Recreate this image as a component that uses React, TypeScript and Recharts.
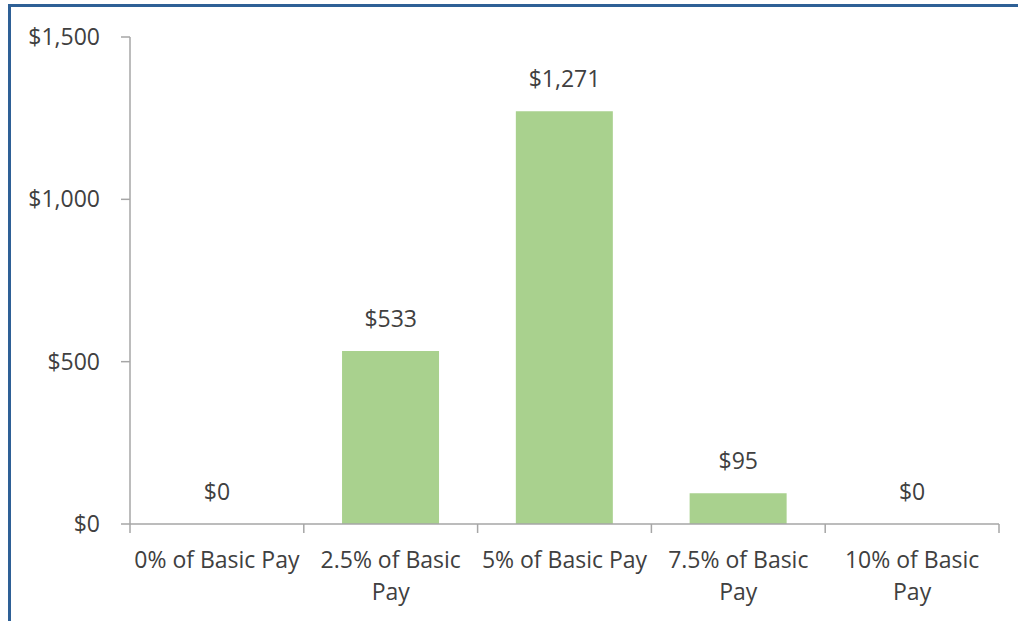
import { ComposedChart, Bar, Line, XAxis, YAxis, LabelList } from "recharts";

const categories = [
  "0% of Basic Pay",
  "2.5% of Basic Pay",
  "5% of Basic Pay",
  "7.5% of Basic Pay",
  "10% of Basic Pay",
];
const amounts = [0, 533, 1271, 95, 0];
const yTicks = [0, 500, 1000, 1500];

const data = categories.map((name, i) => ({ name, amount: amounts[i] }));

const FONT = "'Open Sans', 'Noto Sans', sans-serif";
const TEXT = "#404040";
const AXIS = "#A6A6A6";
const FS = 23;

const money = (v: number) => `$${v.toLocaleString("en-US")}`;

// labels longer than the column get their last word pushed to a second line
const splitLabel = (label: string) => {
  if (label.length <= 15) return [label];
  const idx = label.lastIndexOf(" ");
  return [label.slice(0, idx), label.slice(idx + 1)];
};

const CategoryTick = (props: any) => {
  const { x, payload, index, visibleTicksCount } = props;
  const half = payload.offset ?? 87;
  const axisY = 524;
  const lines = splitLabel(payload.value);
  const last = index === (visibleTicksCount ?? categories.length) - 1;
  return (
    <g>
      <line x1={x - half} x2={x - half} y1={axisY} y2={axisY + 9} stroke={AXIS} strokeWidth={1.5} />
      {last && (
        <line x1={x + half} x2={x + half} y1={axisY} y2={axisY + 9} stroke={AXIS} strokeWidth={1.5} />
      )}
      <text x={x} y={axisY} textAnchor="middle" fill={TEXT} fontSize={FS} fontFamily={FONT}>
        {lines.map((l, i) => (
          <tspan key={i} x={x} y={axisY + 44 + i * 32}>
            {l}
          </tspan>
        ))}
      </text>
    </g>
  );
};

export default function App() {
  return (
    <div style={{ position: "absolute", left: 0, top: 0, width: 1018, height: 621, background: "#fff" }}>
      <div style={{ position: "absolute", left: 8, top: 4, right: 0, height: 3, background: "#2E6096" }} />
      <div style={{ position: "absolute", left: 8, top: 4, bottom: 0, width: 3, background: "#2E6096" }} />
      <ComposedChart
        width={1018}
        height={621}
        data={data}
        margin={{ top: 37, right: 19, left: 0, bottom: 0 }}
        barCategoryGap="22%"
      >
        <YAxis
          width={130}
          domain={[0, 1500]}
          ticks={yTicks}
          tickFormatter={money}
          interval={0}
          stroke={AXIS}
          strokeWidth={1.5}
          tickSize={9}
          tickMargin={21}
          tick={{ fill: TEXT, fontSize: FS, fontFamily: FONT }}
        />
        <XAxis
          dataKey="name"
          height={97}
          interval={0}
          stroke={AXIS}
          strokeWidth={1.5}
          tickLine={false}
          tick={<CategoryTick />}
        />
        <Bar dataKey="amount" fill="#A9D18E" isAnimationActive={false} />
        {/* invisible series carrying the data labels, so the $0 columns get one too */}
        <Line
          dataKey="amount"
          stroke="none"
          dot={false}
          activeDot={false}
          isAnimationActive={false}
        >
          <LabelList
            dataKey="amount"
            position="top"
            offset={24}
            formatter={(v: any) => money(Number(v))}
            fill={TEXT}
            fontSize={FS}
            fontFamily={FONT}
          />
        </Line>
      </ComposedChart>
    </div>
  );
}
